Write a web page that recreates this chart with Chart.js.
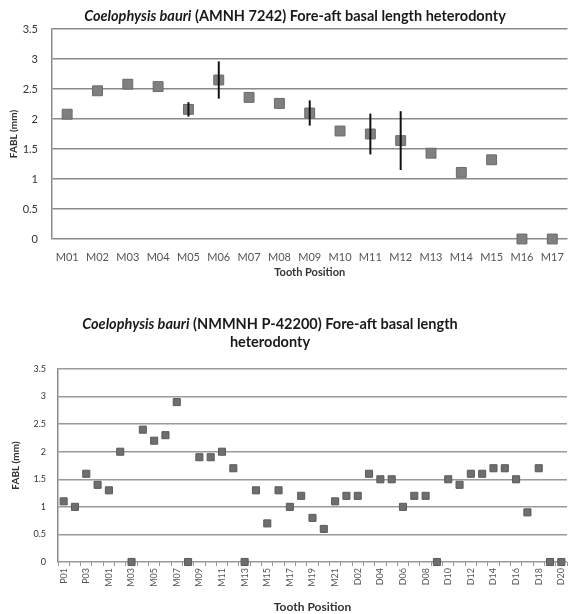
<!DOCTYPE html>
<html>
<head>
<meta charset="utf-8">
<script src="https://cdn.jsdelivr.net/npm/chart.js@4.4.1/dist/chart.umd.min.js"></script>
<style>
  body { margin: 0; background: #fff; width: 576px; height: 614px; position: relative; overflow: hidden; font-family: Lato, "Noto Sans", sans-serif; }
  .title { position: absolute; text-align: center; font-weight: bold; color: #1a1a1a; white-space: nowrap; }
  #wrapTop { position: absolute; left: 0; top: 0; width: 576px; height: 282px; }
  #wrapBottom { position: absolute; left: 0; top: 282px; width: 576px; height: 332px; }
</style>
</head>
<body>
<div id="wrapTop"><canvas id="topChart"></canvas></div>
<div id="wrapBottom"><canvas id="bottomChart"></canvas></div>
<div class="title" style="left:30px;top:7px;width:530px;font-size:14.5px;"><i>Coelophysis bauri</i> (AMNH 7242) Fore-aft basal length heterodonty</div>
<div class="title" style="left:20px;top:315px;width:500px;font-size:14.5px;line-height:18px;"><i>Coelophysis bauri</i> (NMMNH P-42200) Fore-aft basal length<br>heterodonty</div>
<script>
// AMNH 7242 - maxillary teeth
var topPositions = ['M01', 'M02', 'M03', 'M04', 'M05', 'M06', 'M07', 'M08', 'M09',
  'M10', 'M11', 'M12', 'M13', 'M14', 'M15', 'M16', 'M17'];
var topFabl = [2.08, 2.47, 2.58, 2.54, 2.16, 2.65, 2.36, 2.26, 2.10,
  1.80, 1.75, 1.64, 1.43, 1.11, 1.32, 0, 0];
var topError = [0, 0, 0, 0, 0.12, 0.31, 0, 0, 0.21,
  0, 0.34, 0.49, 0, 0, 0, 0, 0];

// NMMNH P-42200 - premaxillary, maxillary and dentary teeth
var bottomPositions = ['P01', 'P02', 'P03', 'P04',
  'M01', 'M02', 'M03', 'M04', 'M05', 'M06', 'M07', 'M08', 'M09', 'M10', 'M11',
  'M12', 'M13', 'M14', 'M15', 'M16', 'M17', 'M18', 'M19', 'M20', 'M21',
  'D01', 'D02', 'D03', 'D04', 'D05', 'D06', 'D07', 'D08', 'D09', 'D10',
  'D11', 'D12', 'D13', 'D14', 'D15', 'D16', 'D17', 'D18', 'D19', 'D20'];
var bottomFabl = [1.1, 1.0, 1.6, 1.4,
  1.3, 2.0, 0, 2.4, 2.2, 2.3, 2.9, 0, 1.9, 1.9, 2.0,
  1.7, 0, 1.3, 0.7, 1.3, 1.0, 1.2, 0.8, 0.6, 1.1,
  1.2, 1.2, 1.6, 1.5, 1.5, 1.0, 1.2, 1.2, 0, 1.5,
  1.4, 1.6, 1.6, 1.7, 1.7, 1.5, 0.9, 1.7, 0, 0];

// vertical error bars drawn on top of the markers
var errorBars = {
  id: 'errorBars',
  afterDatasetsDraw: function (chart, args, opts) {
    if (!opts.values) return;
    var ctx = chart.ctx, x = chart.scales.x, y = chart.scales.y;
    var data = chart.data.datasets[0].data;
    ctx.save();
    ctx.strokeStyle = '#111';
    ctx.lineWidth = 2;
    opts.values.forEach(function (err, i) {
      if (!err) return;
      var px = x.getPixelForValue(i);
      ctx.beginPath();
      ctx.moveTo(px, y.getPixelForValue(data[i] + err));
      ctx.lineTo(px, y.getPixelForValue(data[i] - err));
      ctx.stroke();
    });
    ctx.restore();
  }
};

new Chart(document.getElementById('topChart'), {
  type: 'line',
  data: {
    labels: topPositions,
    datasets: [{
      data: topFabl,
      showLine: false,
      pointStyle: 'rect',
      pointRadius: 7,
      pointBackgroundColor: '#808080',
      pointBorderColor: '#6a6a6a',
      pointBorderWidth: 1,
      clip: false
    }]
  },
  plugins: [errorBars],
  options: {
    responsive: true,
    maintainAspectRatio: false,
    animation: false,
    layout: { padding: { top: 29, right: 3, left: 0, bottom: 0 } },
    plugins: {
      legend: { display: false },
      tooltip: { enabled: false },
      errorBars: { values: topError }
    },
    scales: {
      x: {
        type: 'category',
        offset: true,
        afterFit: function (s) { s.height = 43; },
        grid: { display: false, drawOnChartArea: false, drawTicks: false },
        border: { display: false },
        ticks: {
          autoSkip: false, maxRotation: 0, minRotation: 0, padding: 12,
          color: '#555', font: { family: 'Lato', size: 11 }
        },
        title: {
          display: true, text: 'Tooth Position', color: '#333',
          padding: { top: 0, bottom: 3 },
          font: { family: 'Lato', size: 11, weight: 'bold' }
        }
      },
      y: {
        min: 0,
        max: 3.5,
        afterFit: function (s) { s.width = 52; },
        grid: { color: '#8a8a8a', lineWidth: 1.5, drawTicks: false },
        border: { display: true, color: '#8a8a8a', width: 1.5 },
        ticks: {
          stepSize: 0.5, padding: 14, color: '#333',
          font: { family: 'Lato', size: 11 },
          callback: function (v) { return String(v); }
        },
        title: {
          display: true, text: 'FABL (mm)', color: '#333',
          padding: { top: 8, bottom: 0 },
          font: { family: 'Lato', size: 10, weight: 'bold' }
        }
      }
    }
  }
});

new Chart(document.getElementById('bottomChart'), {
  type: 'line',
  data: {
    labels: bottomPositions,
    datasets: [{
      data: bottomFabl,
      showLine: false,
      pointStyle: 'rect',
      pointRadius: 5,
      pointBackgroundColor: '#6e6e6e',
      pointBorderColor: '#5a5a5a',
      pointBorderWidth: 1,
      clip: false
    }]
  },
  options: {
    responsive: true,
    maintainAspectRatio: false,
    animation: false,
    layout: { padding: { top: 87, right: 9, left: 0, bottom: 0 } },
    plugins: {
      legend: { display: false },
      tooltip: { enabled: false }
    },
    scales: {
      x: {
        type: 'category',
        offset: true,
        afterFit: function (s) { s.height = 52; },
        // short tick marks between categories, no vertical grid
        grid: { drawOnChartArea: false, drawTicks: true, tickLength: 4, color: '#999', offset: true },
        border: { display: false },
        ticks: {
          autoSkip: false, maxRotation: 90, minRotation: 90, padding: 2,
          color: '#555', font: { family: 'Lato', size: 9 },
          callback: function (v, i) { return i % 2 === 0 ? bottomPositions[i] : ''; }
        },
        title: {
          display: true, text: 'Tooth Position', color: '#333',
          padding: { top: 0, bottom: 0 },
          font: { family: 'Lato', size: 12, weight: 'bold' }
        }
      },
      y: {
        min: 0,
        max: 3.5,
        afterFit: function (s) { s.width = 58; },
        grid: { color: '#9a9a9a', lineWidth: 1.5, drawTicks: false },
        border: { display: true, color: '#8a8a8a', width: 1.5 },
        ticks: {
          stepSize: 0.5, padding: 12, color: '#333',
          font: { family: 'Lato', size: 9 },
          callback: function (v) { return String(v); }
        },
        title: {
          display: true, text: 'FABL (mm)', color: '#333',
          padding: { top: 10, bottom: 0 },
          font: { family: 'Lato', size: 10, weight: 'bold' }
        }
      }
    }
  }
});
</script>
</body>
</html>
